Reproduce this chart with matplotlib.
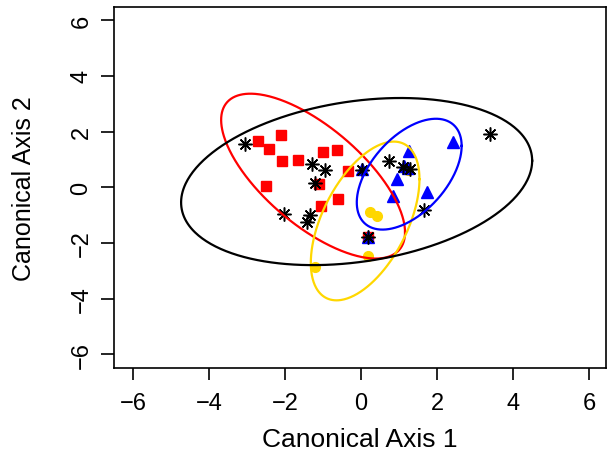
import numpy as np
import matplotlib
matplotlib.use('Agg')
import matplotlib.pyplot as plt

plt.rcParams['font.family'] = ['Liberation Sans', 'DejaVu Sans']

# group points (canonical scores)
red_x = [-2.71, -2.11, -2.42, -2.08, -1.66, -1.0, -0.63, -0.34, -2.5, -1.11, -0.61, -1.05, 0.18]
red_y = [1.67, 1.88, 1.38, 0.95, 0.99, 1.27, 1.34, 0.59, 0.05, 0.13, -0.41, -0.66, -1.78]

yellow_x = [0.24, 0.42, 0.18, -1.21, 1.25]
yellow_y = [-0.88, -1.02, -2.45, -2.85, 0.62]

blue_x = [2.42, 1.27, 1.13, 1.24, 0.95, 0.84, 1.74, 0.18, 0.03]
blue_y = [1.62, 1.30, 0.77, 0.69, 0.30, -0.31, -0.17, -1.78, 0.66]

black_x = [-3.05, -1.29, -0.95, -1.21, -2.03, -1.34, -1.42, 0.03, 3.39, 0.74, 1.1, 1.29, 1.66, 0.18]
black_y = [1.56, 0.84, 0.63, 0.16, -0.95, -0.99, -1.24, 0.63, 1.92, 0.95, 0.73, 0.66, -0.82, -1.78]

# ellipses: centre, x half-range, y half-range, phase
ell_colors = ['red', 'gold', 'blue', 'black']
ell_cx = [-1.26, 0.11, 1.27, -0.114]
ell_cy = [0.40, -1.21, 0.47, 0.205]
ell_rx = [2.42, 1.43, 1.38, 4.62]
ell_ry = [2.96, 2.85, 1.99, 3.0]
ell_phase = [-0.75, 0.555, 0.535, 0.2527]

ticks = [-6, -4, -2, 0, 2, 4, 6]
tick_labels = ['\u2212' + str(-v) if v < 0 else str(v) for v in ticks]

fig = plt.figure(figsize=(6.09, 4.64), dpi=100)
ax = fig.add_axes([0.1872, 0.2047, 0.8079, 0.7791])

ax.plot(red_x, red_y, 's', color='red', markersize=7, linestyle='none')
ax.plot(yellow_x, yellow_y, 'o', color='gold', markersize=7, linestyle='none')
ax.plot(blue_x, blue_y, '^', color='blue', markersize=8, linestyle='none')
ax.plot(black_x, black_y, marker=(8, 2, 0), color='black', markersize=10,
        markeredgewidth=1.1, linestyle='none')

t = np.linspace(0, 2 * np.pi, 400)
for c, cx, cy, rx, ry, ph in zip(ell_colors, ell_cx, ell_cy, ell_rx, ell_ry, ell_phase):
    ax.plot(cx + rx * np.cos(t), cy + ry * np.sin(t + ph), color=c, linewidth=1.6)

ax.set_xlim(-6.5, 6.45)
ax.set_ylim(-6.49, 6.49)
ax.set_xticks(ticks)
ax.set_yticks(ticks)
ax.set_xticklabels(tick_labels)
ax.set_yticklabels(tick_labels, rotation=90, va='center')
ax.tick_params(axis='x', length=8.5, width=1.2, pad=9, labelsize=17)
ax.tick_params(axis='y', length=9.5, width=1.2, pad=6, labelsize=17)
for s in ax.spines.values():
    s.set_linewidth(1.2)

ax.set_xlabel('Canonical Axis 1', fontsize=19)
ax.set_ylabel('Canonical Axis 2', fontsize=18)
ax.xaxis.set_label_coords(0.5, -0.162)
ax.yaxis.set_label_coords(-0.1585, 0.5)

fig.savefig('out.png', dpi=100)
